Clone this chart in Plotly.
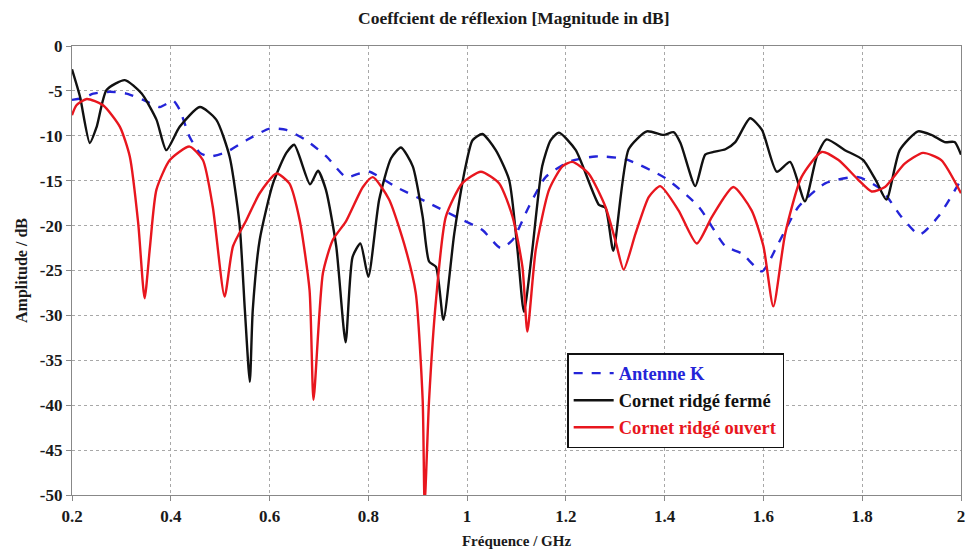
import plotly.graph_objects as go

# ---- data ----
black_f = [0.200,0.216,0.236,0.250,0.270,0.307,0.341,0.371,0.391,0.418,0.459,0.492,0.519,0.539,0.550,0.560,0.566,0.580,0.607,0.634,0.650,0.682,0.698,0.714,0.735,0.754,0.768,0.784,0.800,0.822,0.846,0.866,0.890,0.910,0.923,0.937,0.952,0.974,0.997,1.011,1.031,1.058,1.085,1.102,1.115,1.132,1.152,1.169,1.186,1.220,1.267,1.280,1.296,1.327,1.364,1.398,1.418,1.432,1.462,1.482,1.499,1.523,1.543,1.573,1.597,1.627,1.654,1.684,1.708,1.728,1.765,1.802,1.829,1.849,1.876,1.913,1.940,1.967,1.987,2.000]
black_db = [-2.6,-5.6,-10.8,-9.0,-4.9,-3.8,-5.3,-8.2,-11.6,-9.0,-6.8,-8.2,-12.3,-19.7,-29.4,-37.4,-29.4,-21.6,-15.3,-11.9,-11.0,-15.4,-13.9,-16.0,-22.3,-33.0,-23.5,-22.0,-25.7,-17.1,-12.5,-11.3,-13.4,-19.0,-24.0,-24.6,-30.5,-20.9,-13.4,-10.5,-9.8,-11.6,-14.9,-22.7,-29.6,-22.7,-13.4,-10.5,-9.65,-11.6,-17.7,-18.0,-22.8,-11.5,-9.5,-9.9,-9.6,-10.8,-15.6,-12.1,-11.8,-11.5,-10.7,-8.05,-9.35,-14.0,-12.9,-17.3,-12.3,-10.4,-11.6,-12.7,-15.1,-17.1,-11.6,-9.5,-9.9,-10.7,-10.7,-12.1]

blue_f = [0.200,0.223,0.243,0.277,0.310,0.344,0.378,0.405,0.418,0.438,0.459,0.479,0.513,0.553,0.600,0.634,0.674,0.715,0.755,0.782,0.802,0.856,0.923,0.977,1.031,1.068,1.092,1.125,1.159,1.206,1.260,1.320,1.401,1.469,1.523,1.556,1.597,1.630,1.671,1.725,1.792,1.839,1.879,1.916,1.954,2.000]
blue_db = [-6.0,-5.8,-5.3,-5.1,-5.3,-6.0,-6.8,-6.1,-7.1,-10.1,-11.9,-12.3,-11.8,-10.5,-9.2,-9.35,-10.5,-12.3,-14.6,-14.2,-14.0,-15.7,-17.5,-19.0,-20.5,-22.5,-21.6,-17.9,-14.6,-12.9,-12.3,-12.6,-14.7,-17.9,-22.3,-23.1,-25.1,-22.0,-17.9,-15.3,-14.6,-16.0,-19.0,-21.0,-19.0,-14.9]

red_f = [0.200,0.209,0.230,0.263,0.297,0.317,0.334,0.347,0.358,0.371,0.398,0.438,0.465,0.485,0.509,0.526,0.553,0.580,0.614,0.640,0.661,0.681,0.689,0.708,0.728,0.755,0.789,0.809,0.842,0.876,0.896,0.910,0.914,0.923,0.937,0.957,0.990,1.028,1.065,1.092,1.112,1.122,1.139,1.166,1.193,1.213,1.246,1.280,1.300,1.317,1.341,1.368,1.391,1.428,1.465,1.496,1.539,1.576,1.600,1.620,1.644,1.677,1.718,1.752,1.792,1.819,1.846,1.886,1.923,1.960,2.000]
red_db = [-7.7,-6.6,-5.9,-6.6,-9.0,-12.3,-19.7,-28.1,-22.3,-16.0,-12.7,-11.2,-12.7,-17.9,-27.9,-22.3,-19.4,-16.4,-14.2,-15.3,-19.4,-27.2,-39.4,-25.3,-21.6,-19.5,-15.7,-14.6,-17.1,-22.7,-27.5,-39.4,-51.0,-39.4,-28.3,-19.0,-15.3,-14.0,-15.3,-19.0,-24.6,-31.8,-22.7,-16.0,-13.4,-12.9,-14.2,-17.9,-21.6,-24.9,-20.9,-16.8,-15.6,-18.3,-22.0,-19.0,-15.7,-18.3,-22.3,-29.0,-20.9,-14.6,-11.8,-12.7,-14.9,-16.2,-15.7,-13.1,-11.9,-12.7,-16.4]

x_ticks = [0.2, 0.4, 0.6, 0.8, 1.0, 1.2, 1.4, 1.6, 1.8, 2.0]
x_labels = ["0.2", "0.4", "0.6", "0.8", "1", "1.2", "1.4", "1.6", "1.8", "2"]
y_ticks = [0, -5, -10, -15, -20, -25, -30, -35, -40, -45, -50]
y_labels = ["0", "-5", "-10", "-15", "-20", "-25", "-30", "-35", "-40", "-45", "-50"]

title_text = "Coeffcient de réflexion [Magnitude in dB]"
names = ["Antenne K", "Cornet ridgé fermé", "Cornet ridgé ouvert"]

BLUE = "#2424d8"
BLACK = "#111111"
RED = "#e8161e"
TXT = "#1a1a1a"
FONT = "Liberation Serif"

fig = go.Figure()
fig.add_trace(go.Scatter(x=blue_f, y=blue_db, mode="lines",
                         name=f"<span style='color:{BLUE}'>{names[0]}</span>",
                         line=dict(color=BLUE, width=2.4, dash="dash", shape="spline", smoothing=0.6)))
fig.add_trace(go.Scatter(x=black_f, y=black_db, mode="lines",
                         name=f"<span style='color:{BLACK}'>{names[1]}</span>",
                         line=dict(color=BLACK, width=2.4, shape="spline", smoothing=0.6)))
fig.add_trace(go.Scatter(x=red_f, y=red_db, mode="lines",
                         name=f"<span style='color:{RED}'>{names[2]}</span>",
                         line=dict(color=RED, width=2.4, shape="spline", smoothing=0.6)))

axis_common = dict(
    showline=True, linecolor="#888888", linewidth=1.2, mirror=True,
    showgrid=True, gridcolor="#a8a8a8", griddash="dot", gridwidth=1,
    ticks="outside", ticklen=5, tickcolor="#888888",
    tickfont=dict(family=FONT, size=17, color=TXT, weight="bold"),
    zeroline=False, automargin=False, ticklabeloverflow="allow",
)

fig.update_layout(
    width=967, height=552,
    margin=dict(l=72, r=6, t=46, b=57),
    paper_bgcolor="white", plot_bgcolor="white",
    font=dict(family=FONT, size=13, color=TXT),
    title=dict(text=title_text, x=0.497, xref="paper", xanchor="center",
               y=1 - 18 / 552, yref="container", yanchor="middle", automargin=False,
               font=dict(family=FONT, size=17.5, color=TXT, weight="bold")),
    xaxis=dict(range=[0.2, 2.0], tickvals=x_ticks, ticktext=x_labels,
               title=dict(text="Fréquence / GHz", standoff=10,
                          font=dict(family=FONT, size=15, weight="bold")),
               **axis_common),
    yaxis=dict(range=[-50, 0], tickvals=y_ticks, ticktext=y_labels,
               title=dict(text="Amplitude / dB", standoff=8,
                          font=dict(family=FONT, size=16, weight="bold")),
               **axis_common),
    legend=dict(x=0.557, y=0.316, xanchor="left", yanchor="top",
                bgcolor="white", bordercolor="#111111", borderwidth=1.5,
                font=dict(family=FONT, size=18.5, weight="bold"),
                tracegroupgap=0, itemwidth=40),
    showlegend=True,
)

fig.write_html("out.html",
               config={"displayModeBar": False},
               post_script="document.body.style.margin='0px';document.body.style.overflow='hidden';")
